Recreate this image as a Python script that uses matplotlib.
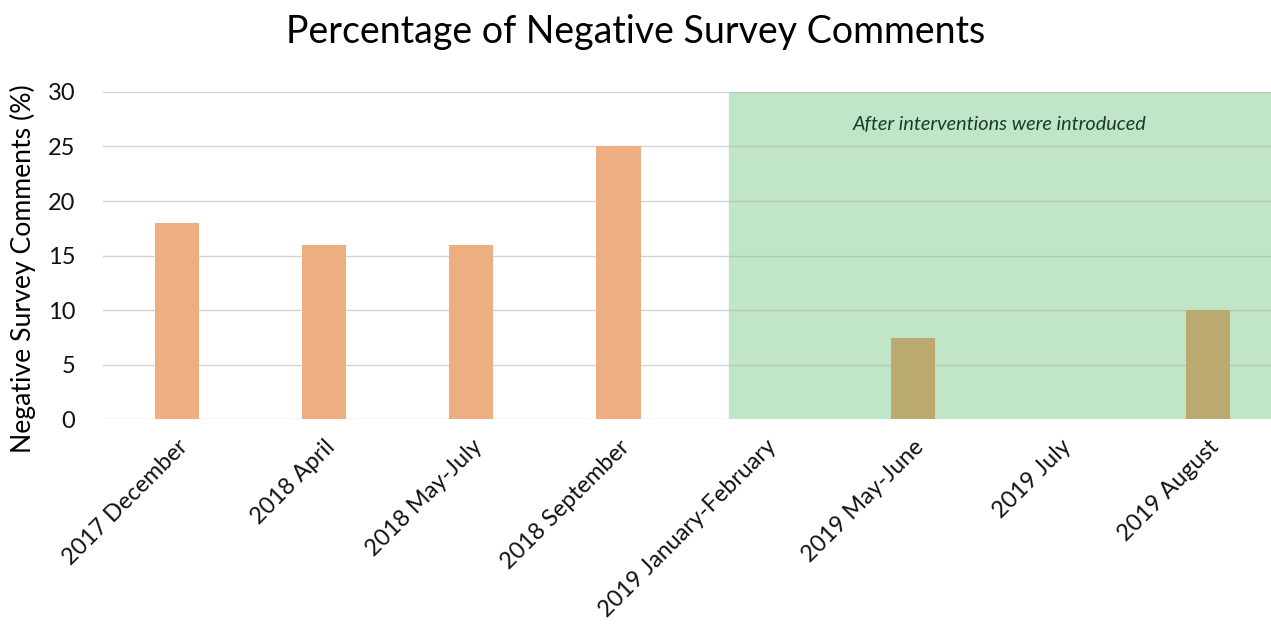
import matplotlib.pyplot as plt

# Data
categories = ["2017 December", "2018 April", "2018 May-July", "2018 September",
              "2019 January-February", "2019 May-June", "2019 July", "2019 August"]
values = [18, 16, 16, 25, 0, 7.5, 0, 10]
yticks = [0, 5, 10, 15, 20, 25, 30]
intervention_start = 3.75

plt.rcParams['font.family'] = ['Lato', 'DejaVu Sans']

fig = plt.figure(figsize=(12.71, 6.25), dpi=100)
ax = fig.add_axes([0.081, 0.329, 0.919, 0.524])

x = list(range(len(categories)))
colors = ['#EDAE82' if i < intervention_start else '#BBAA70' for i in x]
ax.bar(x, values, width=0.3, color=colors, zorder=3)

xmin, xmax = -0.5, 7.43
ax.set_xlim(xmin, xmax)
ax.set_ylim(0, 30)
ax.axvspan(intervention_start, xmax, color='#C1E6C7', zorder=0)
ax.text((intervention_start + xmax) / 2, 27, "After interventions were introduced",
        ha='center', va='center', fontsize=14.3, style='italic', color='#1E3A28')

ax.set_yticks(yticks)
ax.yaxis.grid(True, color='#B0B0B0', alpha=0.55, linewidth=1, zorder=1)
ax.set_axisbelow(False)
ax.set_xticks(x)
ax.set_xticklabels(categories, rotation=45, ha='right', rotation_mode='anchor', fontsize=16.8)
ax.tick_params(axis='both', length=0, colors='#111111')
ax.tick_params(axis='x', pad=12)
ax.tick_params(axis='y', pad=20, labelsize=17)

for s in ax.spines.values():
    s.set_visible(False)

ax.set_ylabel("Negative Survey Comments (%)", fontsize=19.2)
ax.yaxis.set_label_coords(-0.057, 0.46)
fig.suptitle("Percentage of Negative Survey Comments", fontsize=27, y=0.978)

fig.savefig("out.png", dpi=100)
